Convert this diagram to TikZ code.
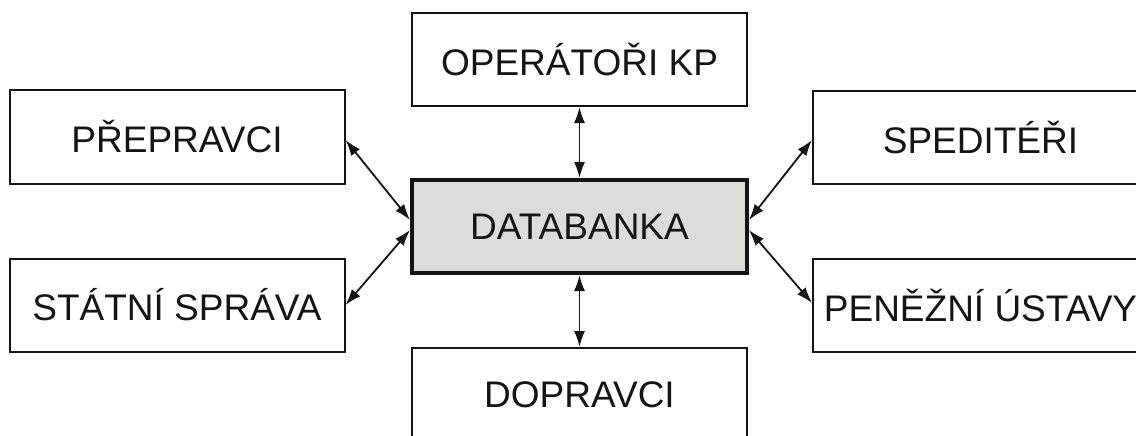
\documentclass[tikz,border=0pt]{standalone}
\usepackage{fontspec}
\setmainfont{Liberation Sans}
\usetikzlibrary{arrows.meta}
\definecolor{dbfill}{HTML}{DCDCDA}
\definecolor{ink}{HTML}{141414}
\begin{document}
\begin{tikzpicture}[x=1pt,y=-1pt,
  box/.style={draw=ink, line width=2pt, minimum width=335pt, minimum height=93pt,
    inner sep=0pt, font=\fontsize{37}{44}\selectfont, text=ink, fill=white},
  hub/.style={box, line width=4pt, fill=dbfill},
  link/.style={draw=ink, line width=1.8pt,
    {Latex[length=16pt,width=11pt]}-{Latex[length=16pt,width=11pt]}}]
\useasboundingbox (0,0) rectangle (1136,436);
\clip (0,0) rectangle (1136,436);
\fill[white] (0,0) rectangle (1136,436);
\node[box] (op)  at (579.5,59.5)  {OPERÁTOŘI KP};
\node[hub] (db)  at (579.5,226.5) {DATABANKA};
\node[box] (dop) at (579.5,394.5) {DOPRAVCI};
\node[box] (pre) at (177,137)     {PŘEPRAVCI};
\node[box] (st)  at (177,305)     {STÁTNÍ SPRÁVA};
\node[box] (sp)  at (980.5,137.5) {SPEDITÉŘI};
\node[box] (pen) at (980.5,305.5) {PENĚŽNÍ ÚSTAVY};
\coordinate (dbl1) at ([yshift=6.5pt]db.west);
\coordinate (dbl2) at ([yshift=-3.5pt]db.west);
\coordinate (dbr1) at ([yshift=6.5pt]db.east);
\coordinate (dbr2) at ([yshift=-3.5pt]db.east);
\coordinate (pree) at ([yshift=-3pt]pre.east);
\coordinate (spw)  at ([yshift=-2.5pt]sp.west);
\coordinate (penw) at ([yshift=2.5pt]pen.west);
\draw[link] (op.south) -- (db.north);
\draw[link] (db.south) -- (dop.north);
\draw[link] (pree) -- (dbl1);
\draw[link] (st.east) -- (dbl2);
\draw[link] (spw) -- (dbr1);
\draw[link] (penw) -- (dbr2);
\end{tikzpicture}
\end{document}
